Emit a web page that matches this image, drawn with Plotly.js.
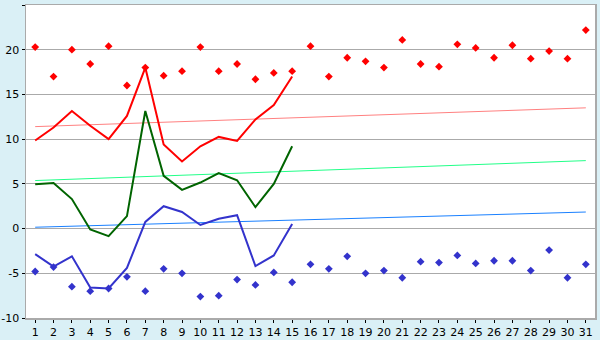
<!DOCTYPE html>
<html>
<head>
<meta charset="utf-8">
<script src="https://cdn.plot.ly/plotly-3.0.1.min.js"></script>
<style>html,body{margin:0;padding:0;background:#daf0f6;}#chart{width:600px;height:340px;}</style>
</head>
<body>
<div id="chart"></div>
<script>
const days = Array.from({length: 31}, (_, i) => i + 1);
const currentDays = days.slice(0, 15);

const recordMax = [20.3, 17.0, 20.0, 18.4, 20.4, 16.0, 18.0, 17.1, 17.6, 20.3, 17.6, 18.4, 16.7, 17.4, 17.6,
  20.4, 17.0, 19.1, 18.7, 18.0, 21.1, 18.4, 18.1, 20.6, 20.2, 19.1, 20.5, 19.0, 19.85, 19.0, 22.2];
const recordMin = [-4.8, -4.3, -6.5, -7.0, -6.7, -5.4, -7.0, -4.5, -5.0, -7.6, -7.5, -5.7, -6.3, -4.9, -6.0,
  -4.0, -4.5, -3.1, -5.0, -4.7, -5.5, -3.7, -3.8, -3.0, -3.9, -3.6, -3.6, -4.7, -2.4, -5.5, -4.0];

const maxTemp = [9.85, 11.3, 13.15, 11.5, 10.0, 12.6, 18.0, 9.4, 7.5, 9.2, 10.25, 9.8, 12.2, 13.8, 17.0];
const meanTemp = [4.95, 5.1, 3.3, -0.1, -0.85, 1.4, 13.15, 5.9, 4.33, 5.15, 6.2, 5.4, 2.4, 5.0, 9.2];
const minTemp = [-2.85, -4.26, -3.1, -6.6, -6.7, -4.4, 0.74, 2.5, 1.85, 0.4, 1.1, 1.5, -4.2, -3.0, 0.5];

const trendX = [1, 31];
const trendMax = [11.4, 13.5];
const trendMean = [5.37, 7.6];
const trendMin = [0.15, 1.85];

const yTicks = [-10, -5, 0, 5, 10, 15, 20, 25];

const traces = [
  {x: trendX, y: trendMax, mode: 'lines', line: {color: '#ff8080', width: 1}},
  {x: trendX, y: trendMean, mode: 'lines', line: {color: '#22ff88', width: 1}},
  {x: trendX, y: trendMin, mode: 'lines', line: {color: '#1a80ff', width: 1}},
  {x: days, y: recordMax, mode: 'markers', marker: {symbol: 'diamond', size: 6, color: '#ff0000'}},
  {x: days, y: recordMin, mode: 'markers', marker: {symbol: 'diamond', size: 6, color: '#3333cc'}},
  {x: currentDays, y: maxTemp, mode: 'lines', line: {color: '#ff0000', width: 2}},
  {x: currentDays, y: meanTemp, mode: 'lines', line: {color: '#006400', width: 2}},
  {x: currentDays, y: minTemp, mode: 'lines', line: {color: '#3333cc', width: 2}}
];

const layout = {
  width: 600, height: 340,
  margin: {l: 26, r: 5, t: 5, b: 22, pad: 0},
  paper_bgcolor: '#daf0f6',
  plot_bgcolor: '#ffffff',
  showlegend: false,
  font: {family: 'DejaVu Sans, Verdana, sans-serif', size: 11, color: '#000'},
  xaxis: {
    range: [0.5, 31.5], tickvals: days, ticktext: days.map(String),
    showgrid: false, zeroline: false, showline: true, linecolor: '#aaaaaa', linewidth: 1.5, mirror: true,
    ticks: 'outside', ticklen: 3, tickcolor: '#000', tickwidth: 1, tickfont: {size: 11},
    ticklabelstandoff: 0
  },
  yaxis: {
    range: [-10, 25], tickvals: yTicks, ticktext: yTicks.map(String),
    showgrid: true, gridcolor: '#aaaaaa', gridwidth: 1, zeroline: false,
    showline: true, linecolor: '#aaaaaa', linewidth: 1.5, mirror: true,
    ticks: 'outside', ticklen: 3, tickcolor: '#000', tickwidth: 1, tickfont: {size: 11}
  }
};

Plotly.newPlot('chart', traces, layout, {displayModeBar: false, staticPlot: true});
</script>
</body>
</html>
